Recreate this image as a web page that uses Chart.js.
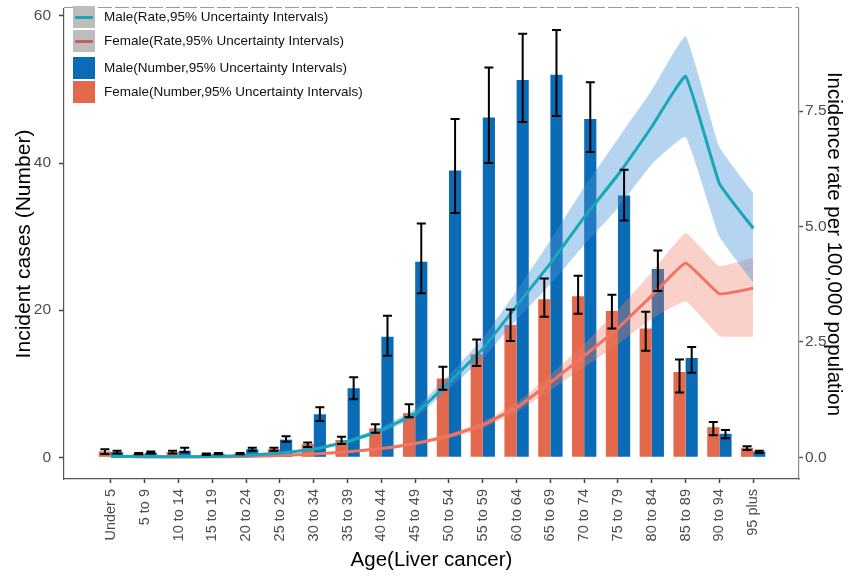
<!DOCTYPE html>
<html>
<head>
<meta charset="utf-8">
<script src="https://cdn.jsdelivr.net/npm/chart.js@4/dist/chart.umd.min.js"></script>
<style>
  html, body { margin: 0; padding: 0; background: #fff; }
  #wrap { position: relative; width: 861px; height: 576px; }
  #legend { position: absolute; left: 73px; top: 0; font-family: "Liberation Sans", Arial, sans-serif; font-size: 13.5px; color: #111; }
  .item { position: absolute; left: 0; height: 22px; white-space: nowrap; }
  .key { position: absolute; left: 0; top: 0; width: 22px; height: 22px; }
  .key .bar { position: absolute; left: 2px; right: 2px; top: 9.5px; height: 3px; }
  .lbl { position: absolute; left: 31px; top: 0; line-height: 22px; }
</style>
</head>
<body>
<div id="wrap">
  <canvas id="c" width="861" height="576"></canvas>
  <div id="legend"></div>
</div>
<script>
// Age groups (x axis)
const ageGroups = ["Under 5", "5 to 9", "10 to 14", "15 to 19", "20 to 24", "25 to 29", "30 to 34",
  "35 to 39", "40 to 44", "45 to 49", "50 to 54", "55 to 59", "60 to 64", "65 to 69", "70 to 74",
  "75 to 79", "80 to 84", "85 to 89", "90 to 94", "95 plus"];

// Incident cases (number) with 95% uncertainty intervals
const maleNumber   = [0.7, 0.6, 0.9, 0.5, 1.1, 2.4, 5.85, 9.4, 16.4, 26.6, 39.0, 46.2, 51.3, 52.0, 46.0, 35.6, 25.6, 13.5, 3.2, 0.8];
const maleNumLow   = [0.5, 0.5, 0.7, 0.4, 0.9, 2.1, 4.95, 7.9, 13.8, 22.3, 33.2, 40.0, 45.6, 46.4, 41.5, 32.2, 22.6, 11.5, 2.6, 0.6];
const maleNumHigh  = [0.9, 0.8, 1.3, 0.6, 1.3, 2.85, 6.8, 10.9, 19.25, 31.8, 46.0, 53.0, 57.6, 58.1, 51.0, 39.1, 28.1, 15.0, 3.7, 0.9];
const femaleNumber = [0.8, 0.5, 0.7, 0.4, 0.5, 1.1, 1.8, 2.35, 3.95, 6.0, 10.7, 14.0, 18.0, 21.5, 21.9, 19.9, 17.5, 11.6, 4.1, 1.3];
const femaleNumLow = [0.45, 0.4, 0.5, 0.3, 0.4, 0.9, 1.4, 1.8, 3.35, 5.45, 9.2, 12.4, 15.8, 19.1, 19.5, 17.5, 14.5, 8.8, 3.0, 1.0];
const femaleNumHigh= [1.1, 0.6, 0.9, 0.5, 0.6, 1.3, 2.0, 2.8, 4.5, 7.2, 12.3, 16.0, 20.1, 24.3, 24.7, 22.1, 19.8, 13.3, 4.8, 1.5];

// Incidence rate per 100,000 with 95% uncertainty intervals
const maleRate      = [0.02, 0.01, 0.01, 0.02, 0.04, 0.09, 0.18, 0.34, 0.59, 0.95, 1.62, 2.35, 3.28, 4.2, 5.2, 6.12, 7.16, 8.25, 5.93, 4.96];
const maleRateLow   = [0.01, 0.0, 0.0, 0.01, 0.03, 0.07, 0.15, 0.30, 0.53, 0.86, 1.48, 2.14, 2.98, 3.75, 4.6, 5.4, 6.35, 6.94, 4.78, 3.78];
const maleRateHigh  = [0.03, 0.02, 0.02, 0.03, 0.05, 0.11, 0.21, 0.38, 0.65, 1.05, 1.78, 2.58, 3.6, 4.7, 5.85, 6.9, 7.95, 9.12, 6.72, 5.72];
const femaleRate    = [0.02, 0.01, 0.01, 0.01, 0.02, 0.04, 0.07, 0.12, 0.19, 0.30, 0.46, 0.70, 1.08, 1.62, 2.2, 2.8, 3.5, 4.21, 3.54, 3.66];
const femaleRateLow = [0.01, 0.0, 0.0, 0.0, 0.01, 0.03, 0.06, 0.10, 0.16, 0.26, 0.41, 0.63, 0.98, 1.45, 1.95, 2.45, 3.0, 3.38, 2.63, 2.61];
const femaleRateHigh= [0.03, 0.02, 0.02, 0.02, 0.03, 0.05, 0.08, 0.14, 0.22, 0.34, 0.51, 0.77, 1.18, 1.79, 2.45, 3.2, 4.0, 4.86, 4.14, 4.32];

// Axis ticks
const leftTicks  = [0, 20, 40, 60];
const rightTicks = [0, 2.5, 5.0, 7.5];

const COL_BLUE = "#0a6cb6";
const COL_ORANGE = "#e2694b";
const COL_TEAL = "#17a6ba";
const COL_SALMON = "#f07363";
const FONT = "'Liberation Sans', Arial, sans-serif";

const pts = arr => arr.map((v, i) => ({ x: i, y: v }));

// Black error bars with caps on top of each bar
const errorBars = {
  id: "errorBars",
  afterDatasetsDraw(chart) {
    const ctx = chart.ctx;
    const y = chart.scales.y;
    ctx.save();
    ctx.strokeStyle = "#000";
    ctx.lineWidth = 2;
    chart.data.datasets.forEach((ds, di) => {
      if (!ds.errLow) return;
      const meta = chart.getDatasetMeta(di);
      meta.data.forEach((el, j) => {
        const x = el.x;
        const y1 = y.getPixelForValue(ds.errLow[j]);
        const y2 = y.getPixelForValue(ds.errHigh[j]);
        ctx.beginPath();
        ctx.moveTo(x, y1); ctx.lineTo(x, y2);
        ctx.moveTo(x - 4.5, y1); ctx.lineTo(x + 4.5, y1);
        ctx.moveTo(x - 4.5, y2); ctx.lineTo(x + 4.5, y2);
        ctx.stroke();
      });
    });
    ctx.restore();
  }
};

// Dashed rule along the top of the panel
const topRule = {
  id: "topRule",
  beforeDatasetsDraw(chart) {
    const { ctx, chartArea } = chart;
    ctx.save();
    ctx.strokeStyle = "#9a9a9a";
    ctx.lineWidth = 1.2;
    ctx.setLineDash([14, 3]);
    ctx.beginPath();
    ctx.moveTo(chartArea.left, chartArea.top - 1.5);
    ctx.lineTo(chartArea.right, chartArea.top - 1.5);
    ctx.stroke();
    ctx.restore();
  }
};

const noPad = s => { s.paddingTop = 0; s.paddingBottom = 0; s.paddingLeft = 0; s.paddingRight = 0; };

const TENSION = 0.1;
const lineBase = { type: "line", yAxisID: "y2", pointRadius: 0, pointHoverRadius: 0, tension: TENSION };

new Chart(document.getElementById("c"), {
  data: {
    datasets: [
      { type: "bar", label: "Female(Number,95% Uncertainty Intervals)", data: pts(femaleNumber),
        errLow: femaleNumLow, errHigh: femaleNumHigh, backgroundColor: COL_ORANGE, yAxisID: "y",
        order: 5, barPercentage: 1, categoryPercentage: 0.72 },
      { type: "bar", label: "Male(Number,95% Uncertainty Intervals)", data: pts(maleNumber),
        errLow: maleNumLow, errHigh: maleNumHigh, backgroundColor: COL_BLUE, yAxisID: "y",
        order: 5, barPercentage: 1, categoryPercentage: 0.72 },
      { ...lineBase, label: "female low", data: pts(femaleRateLow), borderWidth: 0, borderColor: "rgba(0,0,0,0)", fill: false, order: 4 },
      { ...lineBase, label: "female high", data: pts(femaleRateHigh), borderWidth: 0, borderColor: "rgba(0,0,0,0)",
        fill: "-1", backgroundColor: "rgba(240,122,100,0.35)", order: 4 },
      { ...lineBase, label: "male low", data: pts(maleRateLow), borderWidth: 0, borderColor: "rgba(0,0,0,0)", fill: false, order: 3 },
      { ...lineBase, label: "male high", data: pts(maleRateHigh), borderWidth: 0, borderColor: "rgba(0,0,0,0)",
        fill: "-1", backgroundColor: "rgba(70,148,214,0.40)", order: 3 },
      { ...lineBase, label: "Female(Rate,95% Uncertainty Intervals)", data: pts(femaleRate), borderColor: COL_SALMON,
        borderWidth: 3, fill: false, order: 2 },
      { ...lineBase, label: "Male(Rate,95% Uncertainty Intervals)", data: pts(maleRate), borderColor: COL_TEAL,
        borderWidth: 3, fill: false, order: 1 }
    ]
  },
  options: {
    responsive: false,
    animation: false,
    events: [],
    layout: { padding: { top: 9, left: 0, right: 0, bottom: 0 } },
    plugins: { legend: { display: false }, tooltip: { enabled: false } },
    scales: {
      x: {
        type: "linear", min: -1.39, max: 20.355, offset: false,
        afterBuildTicks: s => { s.ticks = ageGroups.map((_, i) => ({ value: i })); },
        afterFit: s => { s.height = 97; noPad(s); },
        ticks: { autoSkip: false, minRotation: 90, maxRotation: 90, padding: 6, color: "#4d4d4d",
          font: { family: FONT, size: 14.5 }, callback: v => ageGroups[v] },
        grid: { offset: false, drawOnChartArea: false, drawTicks: true, tickLength: 4, tickColor: "#444", tickWidth: 1.5 },
        border: { display: true, color: "#555", width: 1.2 },
        title: { display: true, text: "Age(Liver cancer)", color: "#000", font: { family: FONT, size: 20.5 },
          padding: { top: 0, bottom: 3 } }
      },
      y: {
        type: "linear", position: "left", min: -2.95, max: 60.95,
        afterBuildTicks: s => { s.ticks = leftTicks.map(v => ({ value: v })); },
        afterFit: s => { s.width = 64; noPad(s); },
        ticks: { padding: 8, color: "#4d4d4d", font: { family: FONT, size: 15.5 } },
        grid: { drawOnChartArea: false, drawTicks: true, tickLength: 5, tickColor: "#444", tickWidth: 1.5 },
        border: { display: true, color: "#555", width: 1.2 },
        title: { display: true, text: "Incident cases (Number)", color: "#000", font: { family: FONT, size: 21 },
          padding: { top: 12, bottom: 0 } }
      },
      y2: {
        type: "linear", position: "right", min: -0.47, max: 9.71,
        afterBuildTicks: s => { s.ticks = rightTicks.map(v => ({ value: v })); },
        afterFit: s => { s.width = 62; noPad(s); },
        ticks: { padding: 2, color: "#4d4d4d", font: { family: FONT, size: 15.5 }, callback: v => v.toFixed(1) },
        grid: { drawOnChartArea: false, drawTicks: true, tickLength: 4, tickColor: "#555", tickWidth: 1.5 },
        border: { display: true, color: "#8a8a8a", width: 1.2 },
        title: { display: true, text: "Incidence rate per 100,000 population", color: "#000",
          font: { family: FONT, size: 20.5 }, padding: { top: 15, bottom: 0 } }
      }
    }
  },
  plugins: [topRule, errorBars]
});

// Legend
const legendItems = [
  { text: "Male(Rate,95% Uncertainty Intervals)", box: "#bdbdbd", line: COL_TEAL, top: 6 },
  { text: "Female(Rate,95% Uncertainty Intervals)", box: "#bdbdbd", line: "#c9605a", top: 30 },
  { text: "Male(Number,95% Uncertainty Intervals)", box: COL_BLUE, line: null, top: 57 },
  { text: "Female(Number,95% Uncertainty Intervals)", box: COL_ORANGE, line: null, top: 80.5 }
];
const legend = document.getElementById("legend");
legendItems.forEach(it => {
  const d = document.createElement("div");
  d.className = "item";
  d.style.top = it.top + "px";
  const k = document.createElement("div");
  k.className = "key";
  k.style.background = it.box;
  if (it.line) {
    const b = document.createElement("div");
    b.className = "bar";
    b.style.background = it.line;
    k.appendChild(b);
  }
  const l = document.createElement("div");
  l.className = "lbl";
  l.textContent = it.text;
  d.appendChild(k);
  d.appendChild(l);
  legend.appendChild(d);
});
</script>
</body>
</html>
